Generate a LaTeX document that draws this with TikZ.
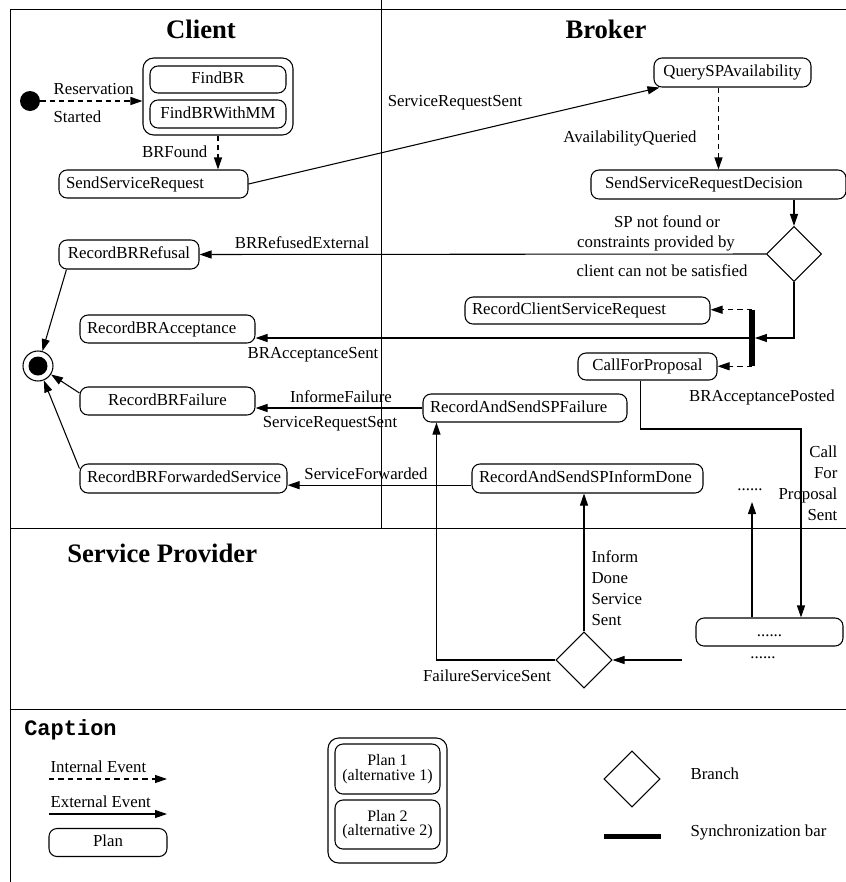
\documentclass[tikz,border=0pt]{standalone}
\usepackage{fontspec}
\setmainfont{Liberation Serif}
\setmonofont{Liberation Mono}
\usetikzlibrary{arrows.meta,shapes.geometric,calc}

\begin{document}
\begin{tikzpicture}[x=0.75pt,y=-0.75pt,
  every node/.style={font=\fontsize{12.6}{15}\selectfont},
  lbl/.style={inner sep=1pt},
  title/.style={inner sep=0pt,font=\fontsize{20}{24}\selectfont\bfseries},
  plan/.style={draw,line width=0.8pt,rounded corners=6pt,inner ysep=0pt,inner xsep=5.25pt,
    text height=8.5pt,text depth=2.5pt,align=center},
  lplan/.style={plan,align=left},
  branch/.style={draw,line width=0.8pt,diamond,aspect=1,inner sep=0pt},
  syncbar/.style={fill=black,inner sep=0pt},
  ext/.style={line width=0.8pt,-{Triangle[length=9pt,width=6pt]}},
  int/.style={ext,dash pattern=on 4pt off 3pt},
  frame/.style={line width=0.75pt}]

\useasboundingbox (0,0) rectangle (846,882);

% swimlane frame
\draw[frame] (10,9) -- (846,9);
\draw[frame] (10,9) -- (10,882);
\draw[frame] (381,0) -- (381,528);
\draw[frame] (10,528) -- (846,528);
\draw[frame] (10,709) -- (846,709);

% lane titles
\node[title] (tClient) at (201,29) {Client};
\node[title] (tBroker) at (606,29) {Broker};
\node[title,anchor=west] (tProvider) at (67,553) {Service Provider};

% ---------------- Client ----------------
\node[circle,fill=black,inner sep=0pt,minimum size=15pt] (start) at (30,101) {};
\node[plan,minimum width=112.5pt,minimum height=57.75pt,rounded corners=8pt] (comp) at (218,96.5) {};
\node[plan,minimum width=102pt,minimum height=20.25pt] (findbr) at (218,79.5) {FindBR};
\node[plan,minimum width=102pt,minimum height=21pt] (findbrmm) at (218,114) {FindBRWithMM};
\node[lbl,anchor=west] (lResv) at (52,89) {Reservation};
\node[lbl,anchor=west] (lStarted) at (52,117) {Started};
\draw[int] (start.east) -- (start.east -| comp.west);

\node[lplan,text width=131.25pt,minimum height=21pt] (ssr) at (153.5,184) {SendServiceRequest};
\draw[int] (comp.south) -- (comp.south |- ssr.north);
\node[lbl,anchor=east] (lBRFound) at (209,152) {BRFound};

\node[plan,minimum width=105pt,minimum height=21.75pt] (refusal) at (129,254.5) {RecordBRRefusal};
\node[lplan,text width=120.75pt,minimum height=21pt] (acceptance) at (167.5,329) {RecordBRAcceptance};
\node[plan,minimum width=131.25pt,minimum height=21pt] (failure) at (167.5,401) {RecordBRFailure};
\node[lplan,text width=144.75pt,minimum height=21.75pt] (forwarded) at (183.5,478.5) {RecordBRForwardedService};

% final state
\node[circle,draw,line width=0.8pt,inner sep=0pt,minimum size=22.5pt] (fs) at (38,366) {};
\node[circle,fill=black,inner sep=0pt,minimum size=14.25pt] (fsin) at (38,366) {};
\draw[ext] ([xshift=6pt]refusal.south west) -- (fs);
\draw[ext] ([yshift=6pt]failure.west) -- (fs);
\draw[ext] ([yshift=7.5pt]forwarded.west) -- (fs);

% ---------------- Broker ----------------
\node[plan,minimum width=117.75pt,minimum height=21.75pt] (qspa) at (732.5,72.5) {QuerySPAvailability};
\draw[ext] (ssr.east) -- ([xshift=4.5pt]qspa.south west);
\node[lbl] (lSRS1) at (455,103) {ServiceRequestSent};

\node[lplan,inner xsep=10.5pt,text width=170.25pt,minimum height=21.75pt] (ssrd) at (718.5,184.5) {SendServiceRequestDecision};
\draw[int] (qspa.south -| ssrd.north) -- (ssrd.north);
\node[lbl] (lAvail) at (630,138) {AvailabilityQueried};

\node[branch,minimum size=41.25pt] (b1) at (794,254) {};
\draw[ext] (ssrd.south -| b1.north) -- (b1.north);
\draw[ext] (b1.west) -- (refusal.east);
\node[lbl] (lRefused) at (302,243) {BRRefusedExternal};
\node[lbl] (lCond1) at (667,222) {SP not found or};
\node[lbl] (lCond2) at (656,243) {constraints provided by};
\node[lbl] (lCond3) at (662,271) {client can not be satisfied};

\node[syncbar,minimum width=4pt,minimum height=42pt] (sync) at (752,338) {};
\node[lplan,text width=173.25pt,minimum height=20.25pt] (rcsr) at (587.5,310.5) {RecordClientServiceRequest};
\node[plan,minimum width=104.25pt,minimum height=20.25pt] (cfp) at (647.5,366.5) {CallForProposal};
\draw[ext] (b1.south) |- (sync.east);
\draw[ext] (sync.west) -- (sync.west -| acceptance.east);
\draw[int] (sync.north) -- (sync.north -| rcsr.east);
\draw[int] (sync.south) -- (sync.south -| cfp.east);
\node[lbl] (lAccSent) at (313,355) {BRAcceptanceSent};
\node[lbl] (lAccPosted) at (762,397) {BRAcceptancePosted};

\node[lplan,text width=142.5pt,minimum height=21pt] (rsspf) at (525,408) {RecordAndSendSPFailure};
\draw[ext] (rsspf.west) -- (rsspf.west -| failure.east);
\node[lbl] (lInformeF) at (341,397) {InformeFailure};
\node[lbl] (lSRS2) at (330,424) {ServiceRequestSent};

\node[lplan,text width=162.75pt,minimum height=21.75pt] (rsspid) at (587.5,478.5) {RecordAndSendSPInformDone};
\coordinate (fwdout) at ([yshift=-5pt]rsspid.west);
\draw[ext] (fwdout) -- (fwdout -| forwarded.east);
\node[lbl] (lFwd) at (366,474) {ServiceForwarded};

% ---------------- Service Provider ----------------
\node[plan,minimum width=110.25pt,minimum height=21pt] (dots) at (769.5,632) {......};
\node[lbl] (dotsLow) at (763,658) {......};
\node[lbl] (dotsUp) at (750,490) {......};
\coordinate (cfpout) at ([xshift=-5.6pt]cfp.south);
\coordinate (cfpturn) at (801,429);
\draw[ext] (cfpout) |- (cfpturn) -- (cfpturn |- dots.north);
\node[lbl,anchor=east,align=right,font=\fontsize{12.6}{15.75}\selectfont] (lCFPS) at (839,483) {Call\\For\\Proposal\\Sent};
\coordinate (upend) at (752,502);
\draw[ext] (dots.north -| upend) -- (upend);

\node[branch,minimum size=42pt] (b2) at (584,660) {};
\coordinate (spin) at (682,660);
\draw[ext] (spin) -- (b2.east);
\draw[ext] (b2.north) -- (b2.north |- rsspid.south);
\coordinate (failin) at ([xshift=10.5pt]rsspf.south west);
\draw[ext] (b2.west) -| (failin);
\node[lbl,anchor=west,align=left,font=\fontsize{12.6}{15.75}\selectfont] (lIDSS) at (590,588) {Inform\\Done\\Service\\Sent};
\node[lbl] (lFSS) at (487,676) {FailureServiceSent};

% ---------------- Caption ----------------
\node[anchor=west,inner sep=0pt,font=\fontsize{16.5}{18}\selectfont\ttfamily\bfseries] (lCaption) at (24,730) {Caption};
\node[lbl,anchor=west] (lInt) at (49,767) {Internal Event};
\coordinate (int1) at (49,779);
\coordinate (int2) at (167,779);
\draw[int] (int1) -- (int2);
\node[lbl,anchor=west] (lExt) at (49,802) {External Event};
\coordinate (ext1) at (49,814);
\coordinate (ext2) at (167,814);
\draw[ext] (ext1) -- (ext2);
\node[plan,minimum width=88.5pt,minimum height=21pt] (legPlan) at (108,842.5) {Plan};

\node[plan,minimum width=89.25pt,minimum height=93.75pt,rounded corners=8pt] (legComp) at (387.5,800.5) {};
\node[plan,text height=,text depth=,minimum width=78.75pt,minimum height=37.5pt,font=\fontsize{12}{11}\selectfont] (legPlan1) at (387.5,769) {Plan 1\\(alternative 1)};
\node[plan,text height=,text depth=,minimum width=78.75pt,minimum height=36.75pt,font=\fontsize{12}{11}\selectfont] (legPlan2) at (387.5,824.5) {Plan 2\\(alternative 2)};

\node[branch,minimum size=42pt] (legBranch) at (632,779) {};
\node[lbl,anchor=west] (lBranch) at (689,774) {Branch};
\node[syncbar,minimum width=42.75pt,minimum height=3.75pt] (legSync) at (632.5,836) {};
\node[lbl,anchor=west] (lSync) at (689,832) {Synchronization bar};

\end{tikzpicture}
\end{document}
